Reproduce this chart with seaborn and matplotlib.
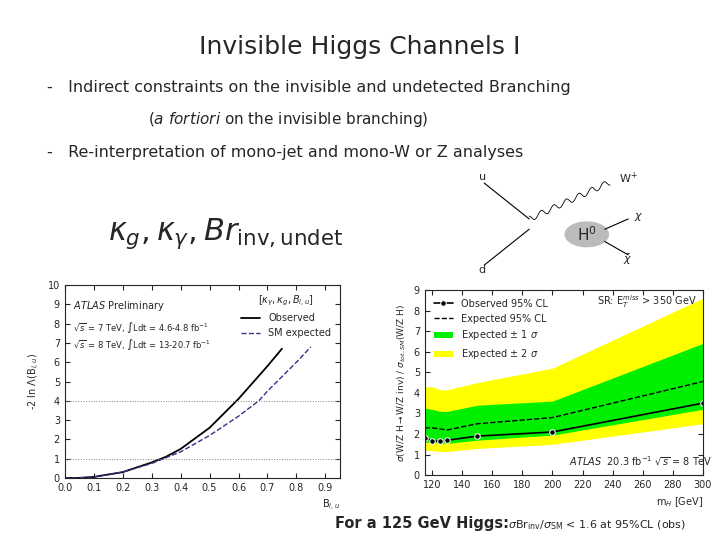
import numpy as np
import matplotlib
matplotlib.use("Agg")
import matplotlib.pyplot as plt
import seaborn as sns
import pandas as pd

sns.set_style("ticks")
plt.rcParams['font.family'] = ['DejaVu Sans']

# Left plot data
b_obs = [0, 0.05, 0.1, 0.2, 0.3, 0.35, 0.4, 0.5, 0.6, 0.7, 0.75]
nll_obs = [0, 0, 0.05, 0.3, 0.8, 1.1, 1.5, 2.6, 4.1, 5.8, 6.7]
b_exp = [0, 0.05, 0.1, 0.2, 0.3, 0.4, 0.5, 0.6, 0.67, 0.7, 0.8, 0.85]
nll_exp = [0, 0, 0.05, 0.3, 0.75, 1.35, 2.2, 3.2, 4.0, 4.5, 6.0, 6.8]

# Right plot data
mh = [115, 120, 125, 130, 150, 200, 300]
obs95 = [1.8, 1.68, 1.65, 1.7, 1.9, 2.1, 3.5]
exp95 = [2.3, 2.3, 2.25, 2.2, 2.5, 2.8, 4.55]
s1_lo = [1.6, 1.6, 1.55, 1.55, 1.7, 1.95, 3.2]
s1_hi = [3.25, 3.2, 3.1, 3.1, 3.4, 3.6, 6.4]
s2_lo = [1.2, 1.2, 1.15, 1.15, 1.3, 1.5, 2.5]
s2_hi = [4.3, 4.3, 4.15, 4.15, 4.5, 5.2, 8.6]

fig = plt.figure(figsize=(7.2, 5.4), dpi=100)
fig.text(0.5, 0.9, "Invisible Higgs Channels I", ha="center", fontsize=18)
fig.text(0.065, 0.83, "-   Indirect constraints on the invisible and undetected Branching", fontsize=11.5)
fig.text(0.205, 0.77, "($\\it{a\\ fortiori}$ on the invisible branching)", fontsize=11)
fig.text(0.065, 0.71, "-   Re-interpretation of mono-jet and mono-W or Z analyses", fontsize=11.5)
fig.text(0.15, 0.555, r"$\kappa_g,\kappa_\gamma,Br_{\rm inv,undet}$", fontsize=22)

# Feynman diagram sketch
ax_f = fig.add_axes([0.66, 0.49, 0.25, 0.19])
ax_f.set_xlim(0, 1); ax_f.set_ylim(0, 1); ax_f.axis("off")
ax_f.plot([0.05, 0.3], [0.9, 0.55], color="k", lw=0.8)
ax_f.plot([0.05, 0.3], [0.1, 0.45], color="k", lw=0.8)
xs = np.linspace(0.3, 0.75, 60)
ax_f.plot(xs, 0.55 + (xs - 0.3) * 0.8 + 0.03 * np.sin(xs * 90), color="k", lw=0.6)
ax_f.add_patch(plt.Circle((0.62, 0.4), 0.12, color="#bbbbbb"))
ax_f.text(0.62, 0.4, r"H$^0$", ha="center", va="center", fontsize=11)
ax_f.plot([0.72, 0.85], [0.45, 0.55], color="k", lw=0.8)
ax_f.plot([0.72, 0.85], [0.33, 0.2], color="k", lw=0.8)
ax_f.text(0.02, 0.93, "u", fontsize=8); ax_f.text(0.02, 0.02, "d", fontsize=8)
ax_f.text(0.8, 0.9, r"W$^{+}$", fontsize=8); ax_f.text(0.88, 0.55, r"$\chi$", fontsize=8)
ax_f.text(0.82, 0.12, r"$\bar\chi$", fontsize=8)

# Left plot
ax1 = fig.add_axes([0.090, 0.115, 0.382, 0.357])
sns.lineplot(x=b_obs, y=nll_obs, ax=ax1, color="black", lw=1.3, label="Observed")
sns.lineplot(x=b_exp, y=nll_exp, ax=ax1, color="#333388", lw=1.0, ls="--", label="SM expected")
for yv in (1, 4):
    ax1.axhline(yv, color="gray", ls=":", lw=0.7)
ax1.set_xlim(0, 0.95); ax1.set_ylim(0, 10)
ax1.set_xticks(np.arange(0, 1.0, 0.1)); ax1.set_yticks(range(11))
ax1.tick_params(labelsize=7, direction="in", top=True, right=True)
ax1.set_ylabel(r"-2 ln $\Lambda$(B$_{i,u}$)", fontsize=7)
ax1.set_xlabel(r"B$_{i,u}$", fontsize=7, loc="right")
ax1.legend(loc="upper right", frameon=False, fontsize=7, title=r"[$\kappa_\gamma,\kappa_g,B_{i,u}$]", title_fontsize=7)
ax1.text(0.03, 0.93, r"$\bf{\it{ATLAS}}$ Preliminary", transform=ax1.transAxes, fontsize=7, va="top")
ax1.text(0.03, 0.82, r"$\sqrt{s}$ = 7 TeV, $\int$Ldt = 4.6-4.8 fb$^{-1}$", transform=ax1.transAxes, fontsize=6, va="top")
ax1.text(0.03, 0.73, r"$\sqrt{s}$ = 8 TeV, $\int$Ldt = 13-20.7 fb$^{-1}$", transform=ax1.transAxes, fontsize=6, va="top")

# Right plot
ax2 = fig.add_axes([0.590, 0.120, 0.386, 0.343])
ax2.fill_between(mh, s2_lo, s2_hi, color="#ffff00", lw=0, label=r"Expected $\pm$ 2 $\sigma$")
ax2.fill_between(mh, s1_lo, s1_hi, color="#00ee00", lw=0, label=r"Expected $\pm$ 1 $\sigma$")
sns.lineplot(x=mh, y=exp95, ax=ax2, color="black", ls="--", lw=1.0, label="Expected 95% CL")
sns.lineplot(x=mh, y=obs95, ax=ax2, color="black", lw=1.2, marker="o", markersize=4, label="Observed 95% CL")
ax2.set_xlim(115, 300); ax2.set_ylim(0, 9)
ax2.set_xticks(range(120, 301, 20)); ax2.set_yticks(range(10))
ax2.tick_params(labelsize=7, direction="in", top=True, right=True)
ax2.set_ylabel(r"$\sigma$(W/Z H$\rightarrow$W/Z inv) / $\sigma_{tot,SM}$(W/Z H)", fontsize=6.5)
ax2.set_xlabel(r"m$_H$ [GeV]", fontsize=7, loc="right")
h, l = ax2.get_legend_handles_labels()
order = [3, 2, 1, 0]
ax2.legend([h[i] for i in order], [l[i] for i in order], loc="upper left", frameon=False, fontsize=7)
ax2.text(0.62, 0.92, r"SR: E$_T^{miss}$ > 350 GeV", transform=ax2.transAxes, fontsize=7)
ax2.text(0.52, 0.05, r"$\bf{\it{ATLAS}}$  20.3 fb$^{-1}$ $\sqrt{s}$ = 8 TeV", transform=ax2.transAxes, fontsize=7)

fig.text(0.465, 0.022, "For a 125 GeV Higgs:", fontsize=10.5, weight="bold")
fig.text(0.705, 0.022, r"$\sigma$Br$_{\rm inv}$/$\sigma_{\rm SM}$ < 1.6 at 95%CL (obs)", fontsize=8)

fig.savefig("out.png", dpi=100)
